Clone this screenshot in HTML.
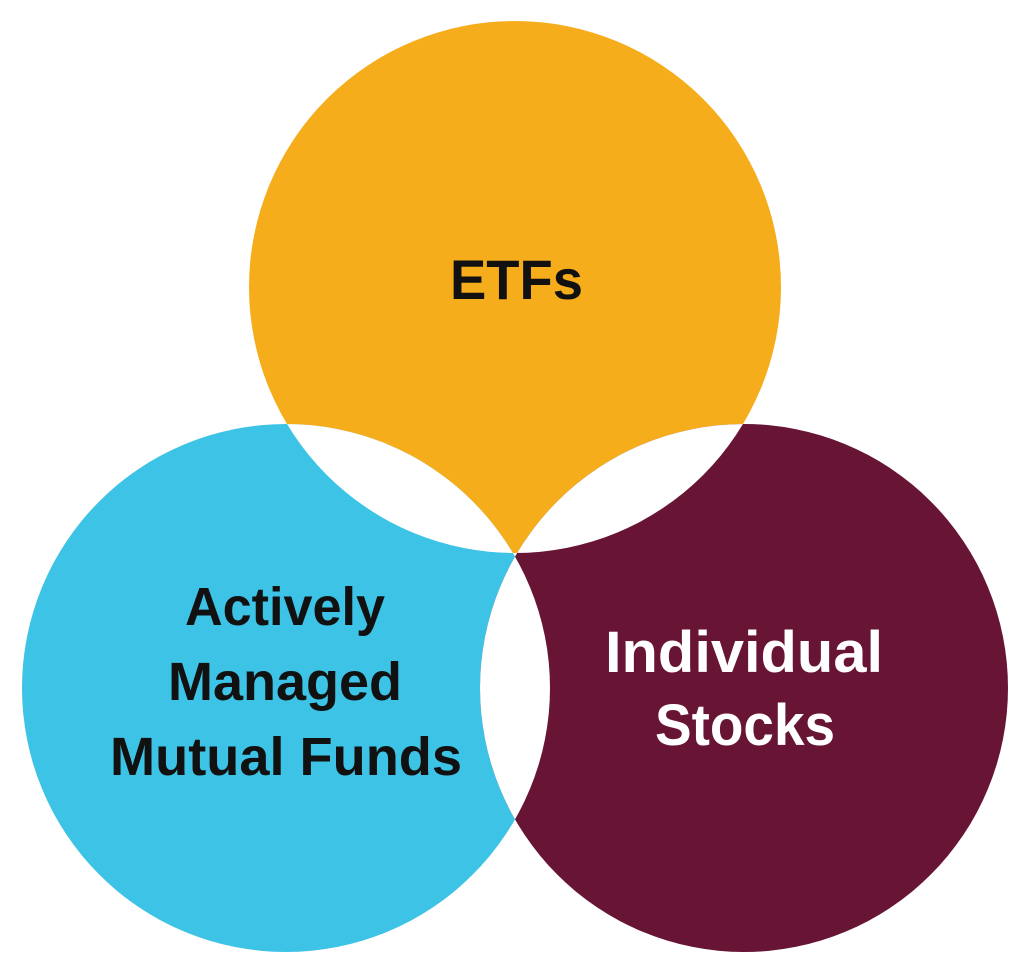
<!DOCTYPE html>
<html><head><style>
html,body{margin:0;padding:0;background:#fff;}
svg{display:block;}
text{font-family:"Liberation Sans",sans-serif;font-weight:bold;}
</style></head><body>
<svg width="1024" height="969" viewBox="0 0 1024 969" xmlns="http://www.w3.org/2000/svg">
<defs>
<clipPath id="cO"><circle cx="515" cy="287" r="266"/></clipPath>
<clipPath id="cB"><circle cx="286" cy="688" r="264"/></clipPath>
</defs>
<circle cx="515" cy="287" r="266" fill="#f6ad1c"/>
<circle cx="286" cy="688" r="264" fill="#3cc3e5"/>
<circle cx="744" cy="688" r="264" fill="#681434"/>
<g fill="#fff">
<circle cx="286" cy="688" r="264" clip-path="url(#cO)"/>
<circle cx="744" cy="688" r="264" clip-path="url(#cO)"/>
<circle cx="744" cy="688" r="264" clip-path="url(#cB)"/>
</g>
<text x="450" y="299" font-size="56" textLength="133" lengthAdjust="spacingAndGlyphs" fill="#111">ETFs</text>
<g font-size="54" fill="#111">
<text x="185" y="625" textLength="200" lengthAdjust="spacingAndGlyphs">Actively</text>
<text x="168" y="700" textLength="234" lengthAdjust="spacingAndGlyphs">Managed</text>
<text x="110" y="775" textLength="352" lengthAdjust="spacingAndGlyphs">Mutual Funds</text>
</g>
<g font-size="58" fill="#fff">
<text x="605" y="672" textLength="278" lengthAdjust="spacingAndGlyphs">Individual</text>
<text x="655" y="745" textLength="180" lengthAdjust="spacingAndGlyphs">Stocks</text>
</g>
</svg>
</body></html>
